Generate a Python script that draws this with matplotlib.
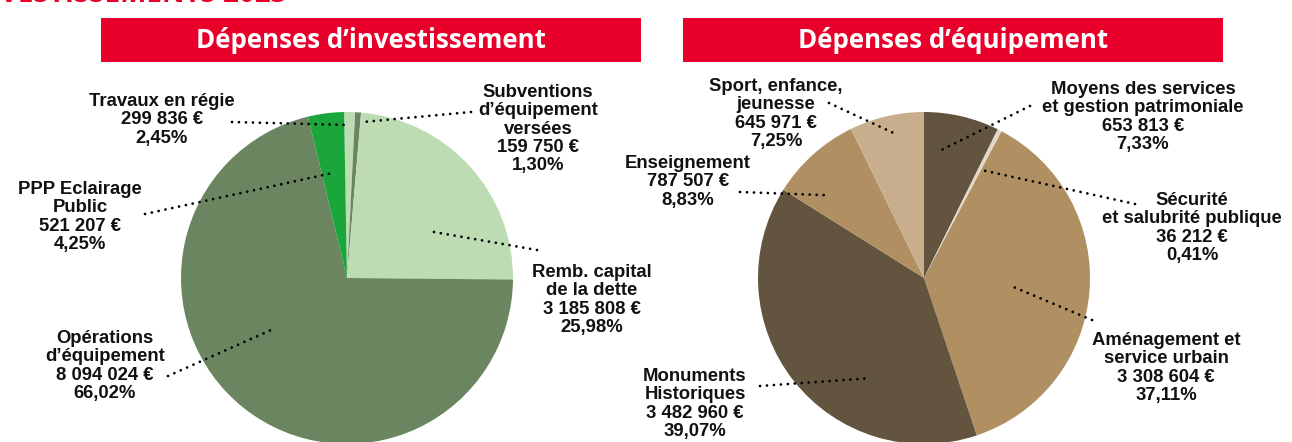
import numpy as np
import matplotlib
matplotlib.use("Agg")
import matplotlib.pyplot as plt

# ---------------- data ----------------
# Left pie: "Dépenses d'investissement" (wedge shares as drawn in the picture)
inv_names = ["Travaux en régie", "Subventions\nd\u2019équipement\nversées",
             "Remb. capital\nde la dette", "Opérations\nd\u2019équipement",
             "PPP Eclairage\nPublic"]
inv_amounts = ["299 836 €", "159 750 €", "3 185 808 €", "8 094 024 €", "521 207 €"]
inv_pcts = ["2,45%", "1,30%", "25,98%", "66,02%", "4,25%"]
inv_shares = [1.06, 0.57, 23.8, 71.1, 3.5]
inv_colors = ["#bddcb4", "#6b8560", "#bddcb4", "#6b8560", "#1ba63b"]

# Right pie: "Dépenses d'équipement"
eq_names = ["Moyens des services\net gestion patrimoniale",
            "Sécurité\net salubrité publique",
            "Aménagement et\nservice urbain",
            "Monuments\nHistoriques", "Enseignement",
            "Sport, enfance,\njeunesse"]
eq_amounts = ["653 813 €", "36 212 €", "3 308 604 €", "3 482 960 €",
              "787 507 €", "645 971 €"]
eq_pcts = ["7,33%", "0,41%", "37,11%", "39,07%", "8,83%", "7,25%"]
eq_shares = [7.33, 0.41, 37.11, 39.07, 8.83, 7.25]
eq_colors = ["#635440", "#e3d8c8", "#b08f62", "#635440", "#b08f62", "#c9ae8d"]

titles = ["Dépenses d\u2019investissement", "Dépenses d\u2019équipement"]

# ---------------- layout (pixel space) ----------------
W, H = 1292, 442
R = 166
def Y(y):
    return H - y

fig = plt.figure(figsize=(W / 100, H / 100), dpi=100)
ax = fig.add_axes([0, 0, 1, 1])

RED = "#e8002b"
LABEL_FONT = dict(family=["Liberation Sans", "DejaVu Sans"], fontweight="bold",
                  fontsize=13.3, color="#111111", ha="center", va="center",
                  linespacing=1.1)

pies = [
    dict(center=(347, 278), start=91, shares=inv_shares, colors=inv_colors,
         names=inv_names, amounts=inv_amounts, pcts=inv_pcts,
         # text center (x, y), leader start (x, y), anchor (deg clockwise from top, radius px)
         labels=[((162, 120), (232, 122), (1.1, 153)),
                 ((538, 129), (471, 112), (6.2, 157)),
                 ((592, 300), (537, 250), (61, 96)),
                 ((105, 366), (168, 376), (235.6, 92)),
                 ((80, 217), (145, 214), (-7.6, 106))]),
    dict(center=(924, 278), start=90, shares=eq_shares, colors=eq_colors,
         names=eq_names, amounts=eq_amounts, pcts=eq_pcts,
         labels=[((1143, 117), (1030, 106), (7.6, 129)),
                 ((1192, 228), (1135, 204), (27.4, 122)),
                 ((1166, 368), (1092, 320), (94.7, 85)),
                 ((695, 404), (760, 386), (209.2, 115)),
                 ((688, 182), (740, 192), (-48.6, 125)),
                 ((776, 114), (829, 103), (-10.7, 146))]),
]

for p in pies:
    cx, cy = p["center"]
    ax.pie(p["shares"], colors=p["colors"], startangle=p["start"],
           counterclock=False, radius=R, center=(cx, Y(cy)),
           wedgeprops=dict(linewidth=0, antialiased=True), frame=True)
    for (txy, lstart, (ang, rad)), nm, am, pc in zip(p["labels"], p["names"],
                                                       p["amounts"], p["pcts"]):
        a = np.deg2rad(ang)
        axp = cx + rad * np.sin(a)
        ayp = Y(cy) + rad * np.cos(a)
        ax.plot([lstart[0], axp], [Y(lstart[1]), ayp], color="black",
                lw=2.0, linestyle=(0, (0.01, 2.5)), dash_capstyle="round",
                zorder=5)
        ax.text(txy[0], Y(txy[1]), f"{nm}\n{am}\n{pc}", **LABEL_FONT, zorder=6)

# title bars
for (x0, x1), t in zip([(101, 641), (683, 1223)], titles):
    ax.add_patch(plt.Rectangle((x0, Y(62)), x1 - x0, 44, color=RED, lw=0, zorder=3))
    ax.text((x0 + x1) / 2, Y(41), t, color="white", fontsize=18.6,
            family=["Open Sans", "DejaVu Sans"], fontweight="bold",
            ha="center", va="center", zorder=4)

# cropped page heading at the very top (only its bottom edge is visible)
ax.text(287, Y(1.5), "LES PRINCIPAUX INVESTISSEMENTS 2023", color=RED,
        fontsize=20, family=["Open Sans", "DejaVu Sans"], fontweight="bold",
        ha="right", va="baseline", zorder=4)

ax.set_xlim(0, W)
ax.set_ylim(0, H)
ax.set_aspect("equal")
ax.set_axis_off()

fig.savefig("out.png", dpi=100)
